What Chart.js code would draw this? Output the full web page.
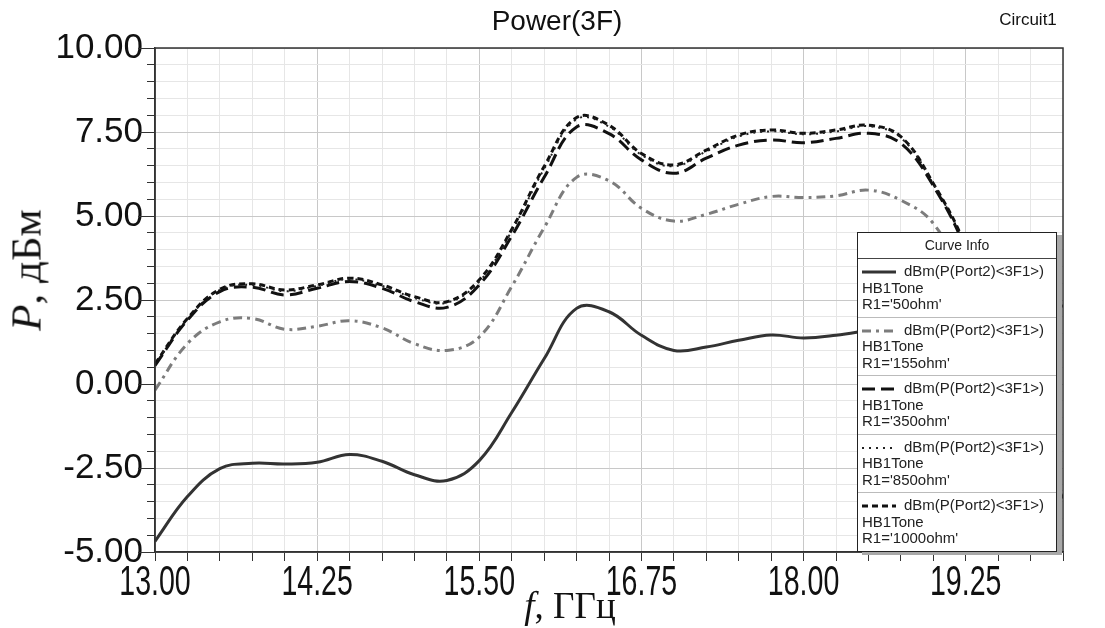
<!DOCTYPE html>
<html>
<head>
<meta charset="utf-8">
<script src="https://cdn.jsdelivr.net/npm/chart.js@4.4.1/dist/chart.umd.min.js"></script>
<style>
  body { margin: 0; background: #fff; }
  #wrap { position: relative; width: 1105px; height: 628px; font-family: "Liberation Sans", Arial, sans-serif; }
  .txt { position: absolute; white-space: nowrap; color: #111; }
  #title { left: 557px; top: 21px; font-size: 28px; transform: translate(-50%, -50%); }
  #circuit { left: 1028px; top: 20px; font-size: 17px; transform: translate(-50%, -50%); }
  #xtitle { left: 570px; top: 605px; font: 37px "Liberation Serif", serif; transform: translate(-50%, -50%); }
  #ytitle { left: 26px; top: 270px; font: 43px "Liberation Serif", serif; transform: translate(-50%, -50%) rotate(-90deg); }
  #legend { position: absolute; left: 857px; top: 232px; width: 200px; height: 320px; background: #fff;
            border: 1.5px solid #222; box-shadow: 5px 3px 0 #a8a8a8; font-size: 15px; color: #222; box-sizing: border-box; }
  #legend .head { height: 25px; line-height: 25px; text-align: center; font-size: 14px; border-bottom: 1.5px solid #444; }
  #legend .item { height: 58.5px; border-bottom: 1px solid #bbb; box-sizing: border-box; padding: 4px 0 0 4px; line-height: 16.5px; }
  #legend .item:last-child { border-bottom: none; }
  #legend svg { vertical-align: middle; margin-right: 8px; }
</style>
</head>
<body>
<div id="wrap">
  <canvas id="powerChart" width="1105" height="628"></canvas>
  <div class="txt" id="title">Power(3F)</div>
  <div class="txt" id="circuit">Circuit1</div>
  <div class="txt" id="xtitle"><i>f</i>, ГГц</div>
  <div class="txt" id="ytitle"><i>P</i>, дБм</div>
  <div id="legend"><div class="head">Curve Info</div></div>
</div>
<script>
'use strict';

var freqs = [13.00, 13.25, 13.50, 13.75, 14.00, 14.25, 14.50, 14.75, 15.00, 15.25,
             15.50, 15.75, 16.00, 16.25, 16.50, 16.75, 17.00, 17.25, 17.50, 17.75,
             18.00, 18.25, 18.50, 18.75, 19.00, 19.25, 19.50, 19.75, 20.00];

var r50   = [-4.68, -3.35, -2.52, -2.36, -2.38, -2.33, -2.10, -2.30, -2.70, -2.87,
             -2.28, -0.85, 0.75, 2.25, 2.15, 1.45, 1.00, 1.10, 1.30, 1.46,
             1.37, 1.45, 1.60, 1.75, 1.90, 2.00, 2.15, 2.25, 2.32];
var r155  = [-0.18, 1.20, 1.85, 1.95, 1.63, 1.72, 1.88, 1.67, 1.20, 1.00,
             1.40, 2.90, 4.65, 6.15, 6.05, 5.23, 4.85, 5.05, 5.35, 5.58,
             5.55, 5.60, 5.77, 5.47, 4.78, 3.00, 0.50, -1.80, -3.40];
var r350  = [0.55, 1.90, 2.75, 2.88, 2.65, 2.85, 3.05, 2.85, 2.45, 2.28,
             2.95, 4.40, 6.15, 7.65, 7.45, 6.67, 6.27, 6.72, 7.11, 7.26,
             7.18, 7.31, 7.46, 7.16, 5.90, 4.00, 1.20, -1.50, -3.40];
var r850  = [0.58, 1.93, 2.80, 2.95, 2.76, 2.92, 3.12, 2.92, 2.56, 2.42,
             3.05, 4.55, 6.40, 7.88, 7.66, 6.82, 6.48, 6.92, 7.37, 7.52,
             7.43, 7.52, 7.67, 7.33, 5.95, 4.05, 1.25, -1.45, -3.35];
var r1000 = [0.60, 1.95, 2.82, 2.98, 2.80, 2.95, 3.15, 2.95, 2.60, 2.45,
             3.10, 4.60, 6.47, 7.93, 7.70, 6.86, 6.52, 6.96, 7.41, 7.56,
             7.46, 7.56, 7.70, 7.36, 5.97, 4.10, 1.30, -1.40, -3.30];

var curveNames = ["R1='50ohm'", "R1='155ohm'", "R1='350ohm'", "R1='850ohm'", "R1='1000ohm'"];
var exprName = 'dBm(P(Port2)<3F1>)';

function pts(vals) {
    return vals.map(function (v, i) { return { x: freqs[i], y: v }; });
}
function onStep(v, base, step) {
    var k = (v - base) / step;
    return Math.abs(k - Math.round(k)) < 1e-6;
}

var styles = [
    { color: '#333333', width: 3, dash: [] },
    { color: '#7c7c7c', width: 3, dash: [9, 5, 3, 5] },
    { color: '#111111', width: 3, dash: [13, 6] },
    { color: '#222222', width: 2, dash: [2, 5] },
    { color: '#111111', width: 3, dash: [6, 4] }
];
var series = [r50, r155, r350, r850, r1000];

var frame = {
    id: 'frame',
    afterDraw: function (chart) {
        var ctx = chart.ctx, a = chart.chartArea, sx = chart.scales.x, sy = chart.scales.y;
        ctx.save();
        ctx.strokeStyle = '#333';
        ctx.lineWidth = 1.5;
        ctx.strokeRect(a.left, a.top, a.right - a.left, a.bottom - a.top);
        ctx.lineWidth = 1;
        ctx.beginPath();
        sy.ticks.forEach(function (t) {
            if (onStep(t.value, -5, 2.5)) {
                var py = Math.round(sy.getPixelForValue(t.value)) + 0.5;
                ctx.moveTo(a.left - 17, py);
                ctx.lineTo(a.left, py);
            }
        });
        ctx.stroke();
        ctx.fillStyle = '#111';
        ctx.font = '42px "Liberation Sans", Arial, sans-serif';
        ctx.textAlign = 'center';
        ctx.textBaseline = 'top';
        sx.ticks.forEach(function (t) {
            if (!onStep(t.value, 13, 1.25)) return;
            ctx.save();
            ctx.translate(sx.getPixelForValue(t.value), a.bottom + 10);
            ctx.scale(0.68, 1);
            ctx.fillText(t.value.toFixed(2), 0, 0);
            ctx.restore();
        });
        ctx.restore();
    }
};

var chart = new Chart(document.getElementById('powerChart'), {
    type: 'line',
    data: {
        datasets: series.map(function (vals, i) {
            return {
                label: curveNames[i],
                data: pts(vals),
                borderColor: styles[i].color,
                borderWidth: styles[i].width,
                borderDash: styles[i].dash,
                pointRadius: 0,
                tension: 0.4,
                fill: false
            };
        })
    },
    options: {
        responsive: false,
        animation: false,
        layout: { padding: { left: 0, right: 42, top: 48, bottom: 0 } },
        plugins: { legend: { display: false }, tooltip: { enabled: false } },
        scales: {
            x: {
                type: 'linear',
                min: 13, max: 20,
                afterFit: function (s) { s.height = 76; },
                ticks: {
                    stepSize: 0.25,
                    color: 'rgba(0,0,0,0)',
                    font: { size: 10 },
                    maxRotation: 0,
                    autoSkip: false,
                    callback: function () { return ''; }
                },
                grid: {
                    color: function (c) { return onStep(c.tick.value, 13, 1.25) ? '#c8c8c8' : '#e6e6e6'; },
                    tickColor: '#333',
                    tickLength: 9
                },
                border: { color: '#333', width: 1.5 }
            },
            y: {
                min: -5, max: 10,
                afterFit: function (s) { s.width = 155; },
                ticks: {
                    stepSize: 0.5,
                    autoSkip: false,
                    color: '#111',
                    padding: 4,
                    font: { family: '"Liberation Sans", Arial, sans-serif', size: 35 },
                    callback: function (v) { return onStep(v, -5, 2.5) ? v.toFixed(2) : ''; }
                },
                grid: {
                    color: function (c) { return onStep(c.tick.value, -5, 2.5) ? '#c8c8c8' : '#e6e6e6'; },
                    tickColor: '#333',
                    tickLength: 8
                },
                border: { color: '#333', width: 1.5 }
            }
        }
    },
    plugins: [frame]
});

// legend box built from the same series definitions
var legend = document.getElementById('legend');
curveNames.forEach(function (name, i) {
    var st = styles[i];
    var item = document.createElement('div');
    item.className = 'item';
    item.innerHTML =
        '<svg width="34" height="8"><line x1="0" y1="4" x2="34" y2="4" stroke="' + st.color +
        '" stroke-width="' + st.width + '" stroke-dasharray="' + st.dash.join(' ') + '"/></svg>' +
        '<span></span><br>HB1Tone<br><span class="nm"></span>';
    item.querySelector('span').textContent = exprName;
    item.querySelector('.nm').textContent = name;
    legend.appendChild(item);
});
</script>
</body>
</html>
